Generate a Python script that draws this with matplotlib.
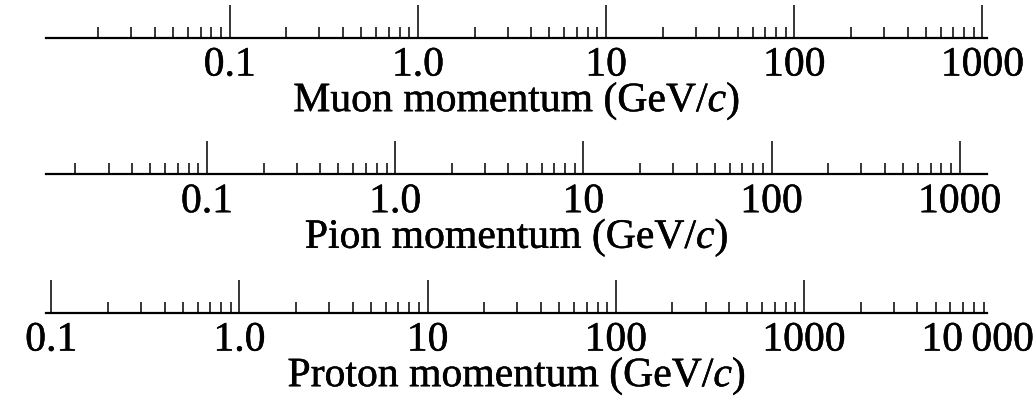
import numpy as np
import matplotlib
matplotlib.use('Agg')
import matplotlib.pyplot as plt
import matplotlib.patheffects as pe
from matplotlib.ticker import FixedLocator, NullFormatter

plt.rcParams['font.family'] = ['Liberation Serif', 'DejaVu Serif']
plt.rcParams['mathtext.fontset'] = 'custom'
plt.rcParams['mathtext.rm'] = 'Liberation Serif'
plt.rcParams['mathtext.it'] = 'Liberation Serif:italic'

# particle masses (GeV/c^2) and the common beta*gamma span of the scales
particles = ['Muon', 'Pion', 'Proton']
masses = [0.10566, 0.13957, 0.93827]
betagamma_range = [0.1, 10000.0]

# labelled momenta on each scale (GeV/c)
major_ticks = [
    [0.1, 1.0, 10, 100, 1000],
    [0.1, 1.0, 10, 100, 1000],
    [0.1, 1.0, 10, 100, 1000, 10000],
]
major_labels = [
    ['0.1', '1.0', '10', '100', '1000'],
    ['0.1', '1.0', '10', '100', '1000'],
    ['0.1', '1.0', '10', '100', '1000', '10\u2009000'],
]

fig = plt.figure(figsize=(10.34, 3.98), dpi=100)

line_y = [0.9053, 0.562, 0.2143]
fs = 30
heavy = [pe.withStroke(linewidth=0.35, foreground='black')]

for i, name in enumerate(particles):
    ax = fig.add_axes([0.0445, line_y[i], 0.910, 0.08])
    lo = masses[i] * betagamma_range[0]
    hi = masses[i] * betagamma_range[1]
    ax.set_xscale('log')
    ax.set_xlim(lo, hi)
    ax.set_ylim(0, 1)

    # minor ticks 2..9 in every decade that falls inside the scale
    minors = []
    for dec in range(-3, 5):
        for k in range(2, 10):
            v = k * 10.0 ** dec
            if lo < v < hi:
                minors.append(v)

    # ticks beyond the end of the line only get their label
    inside = [j for j, t in enumerate(major_ticks[i]) if lo <= t <= hi]
    outside = [j for j, t in enumerate(major_ticks[i]) if not lo <= t <= hi]
    ax.xaxis.set_major_locator(FixedLocator([major_ticks[i][j] for j in inside]))
    ax.xaxis.set_minor_locator(FixedLocator(minors))
    ax.set_xticklabels([major_labels[i][j] for j in inside])
    ax.xaxis.set_minor_formatter(NullFormatter())

    for s in ['top', 'left', 'right']:
        ax.spines[s].set_visible(False)
    ax.spines['bottom'].set_linewidth(1.6)
    ax.set_yticks([])
    ax.patch.set_visible(False)

    ax.tick_params(axis='x', which='major', direction='in', length=24,
                   width=1.1, labelsize=fs, pad=6)
    ax.tick_params(axis='x', which='minor', direction='in', length=8,
                   width=1.1)
    for lab in ax.get_xticklabels():
        lab.set_path_effects(heavy)
    xl = ax.set_xlabel(name + ' momentum (GeV/$c$)', fontsize=fs, labelpad=-3)
    xl.set_path_effects(heavy)

    for j in outside:
        ax.annotate(major_labels[i][j], xy=(1.0, 0), xycoords=('figure fraction', 'axes fraction'),
                    xytext=(0, -6), textcoords='offset points',
                    ha='right', va='top', fontsize=fs, annotation_clip=False,
                    path_effects=heavy)

fig.savefig('out.png', dpi=100)
